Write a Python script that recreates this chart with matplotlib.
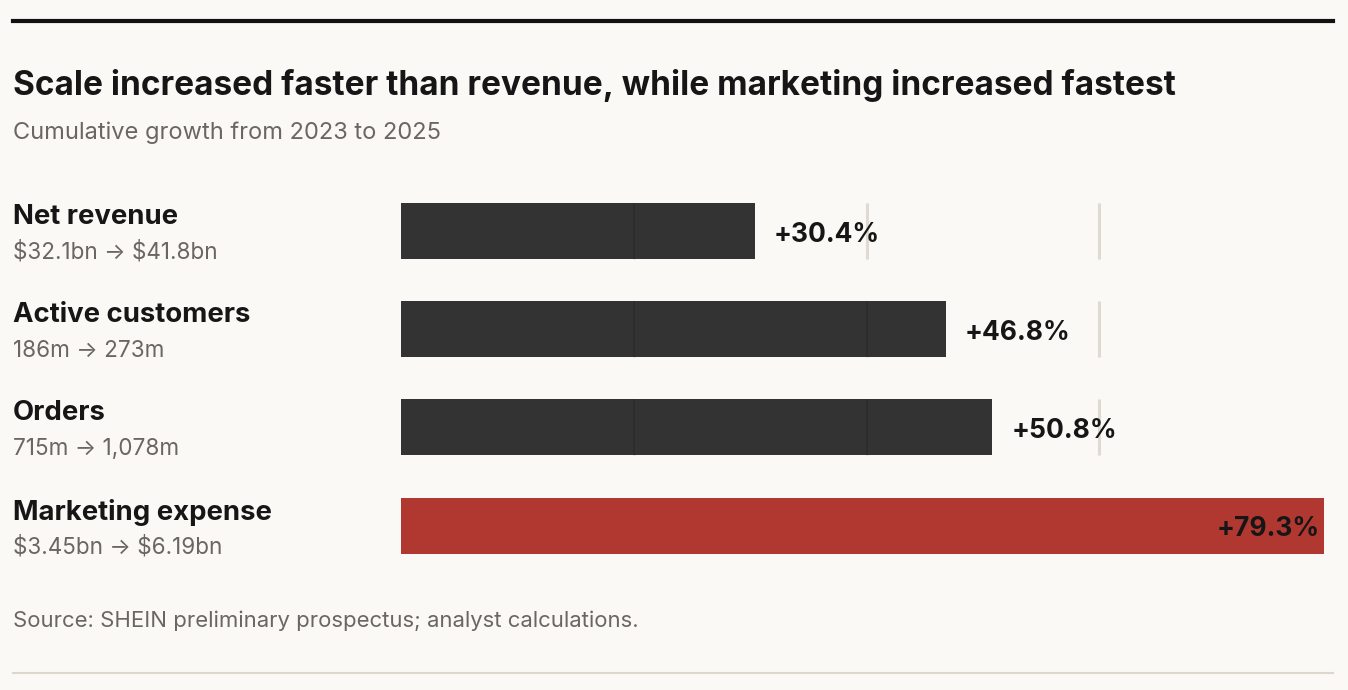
import matplotlib
matplotlib.use("Agg")
import matplotlib.pyplot as plt
from matplotlib.lines import Line2D

# ---- data ----
metrics = ["Net revenue", "Active customers", "Orders", "Marketing expense"]
ranges = ["\\$32.1bn \u2192 \\$41.8bn", "186m \u2192 273m", "715m \u2192 1,078m", "\\$3.45bn \u2192 \\$6.19bn"]
growth = [30.4, 46.8, 50.8, 79.3]
grid_ticks = [20, 40, 60]

title = "Scale increased faster than revenue, while marketing increased fastest"
subtitle = "Cumulative growth from 2023 to 2025"
source = "Source: SHEIN preliminary prospectus; analyst calculations."

W, H = 1348, 690
BG = "#faf9f5"
DARK = "#333333"
RED = "#b13830"
GRID = "#e0dbd2"
TXT = "#161616"
GRAY = "#6b6661"
FONT = ["Inter", "DejaVu Sans"]

fig = plt.figure(figsize=(W / 100, H / 100), dpi=100, facecolor=BG)

def fy(py):
    return 1 - py / H

def fx(px):
    return px / W

# rules
fig.add_artist(Line2D([fx(13), fx(1333)], [fy(21), fy(21)], color="#111111", lw=3, transform=fig.transFigure))
fig.add_artist(Line2D([fx(13), fx(1333)], [fy(673), fy(673)], color="#dcd6cc", lw=1.5, transform=fig.transFigure))

fig.text(fx(13), fy(95), title, family=FONT, fontweight="bold", fontsize=24, color=TXT, va="baseline")
fig.text(fx(13), fy(139), subtitle, family=FONT, fontsize=17, color=GRAY, va="baseline")
fig.text(fx(13), fy(627), source, family=FONT, fontsize=15.9, color=GRAY, va="baseline")

# axes
x0, x1 = 401, 1333
px_per = 923 / 79.3
top_c, step = 231, 98.2
ax_top = top_c - step / 2
ax_bot = top_c + step * 3.5
ax = fig.add_axes([fx(x0), fy(ax_bot), fx(x1) - fx(x0), (ax_bot - ax_top) / H])
ax.set_facecolor("none")
ax.set_xlim(0, (x1 - x0) / px_per)
ax.set_ylim(3.5, -0.5)
ax.axis("off")

bh = 0.57
base_off = 10.5 / step
colors = [DARK, DARK, DARK, RED]
for i, (v, c) in enumerate(zip(growth, colors)):
    if c == DARK:
        for g in grid_ticks:
            ax.vlines(g, i - bh / 2, i + bh / 2, color=GRID, lw=2.2, zorder=1)
    ax.barh(i, v, height=bh, color=c, zorder=2)
    if c == DARK:
        for g in grid_ticks:
            if g < v:
                ax.vlines(g, i - bh / 2, i + bh / 2, color="#2c2c2a", lw=1.2, zorder=3)
    lab = f"+{v:.1f}%"
    if i == len(growth) - 1:
        ax.text(v - 4 / px_per, i + base_off, lab, ha="right", va="baseline", family=FONT,
                fontweight="bold", fontsize=19, color=TXT, zorder=4)
    else:
        ax.text(v + 19 / px_per, i + base_off, lab, ha="left", va="baseline", family=FONT,
                fontweight="bold", fontsize=19, color=TXT, zorder=4)

# row labels
lab_base = [224, 322, 420, 520]
rng_base = [258, 357, 455, 554]
for m, r, lb, rb in zip(metrics, ranges, lab_base, rng_base):
    fig.text(fx(13), fy(lb), m, family=FONT, fontweight="bold", fontsize=19.8, color=TXT, va="baseline")
    fig.text(fx(13), fy(rb), r, family=FONT, fontsize=16.2, color=GRAY, va="baseline")

fig.savefig("out.png", dpi=100, facecolor=BG)
